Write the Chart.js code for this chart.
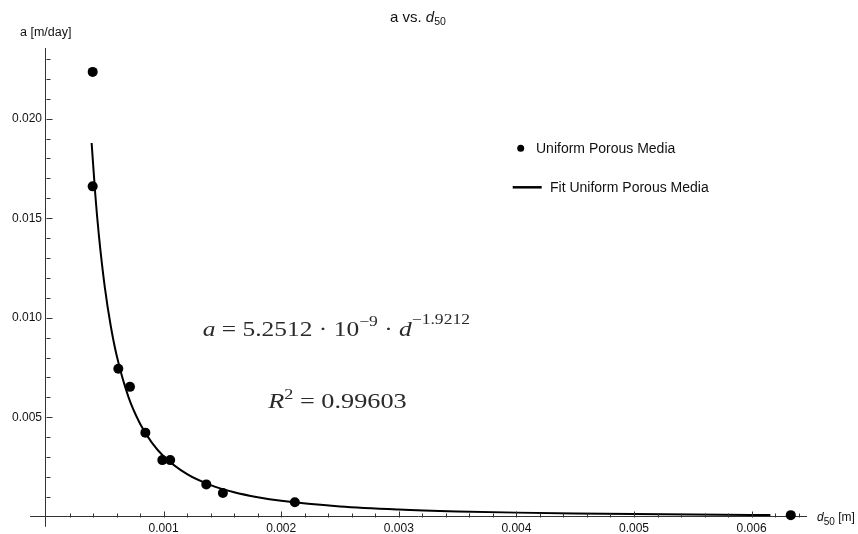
<!DOCTYPE html>
<html><head><meta charset="utf-8">
<script src="https://cdn.jsdelivr.net/npm/chart.js@4.4.1/dist/chart.umd.min.js"></script>
<style>html,body{margin:0;padding:0;background:#fff}</style>
</head><body>
<canvas id="c" width="858" height="534" style="width:858px;height:534px;display:block"></canvas>
<script>
// measured points (d50 [m], a [m/day])
const d50 = [0.000397, 0.000397, 0.000615, 0.000714, 0.000845, 0.000989, 0.001056, 0.001363, 0.001504, 0.002116, 0.006333];
const aValues = [0.02235, 0.0166, 0.00744, 0.00653, 0.00423, 0.00285, 0.00285, 0.00163, 0.0012, 0.00073, 0.000085];
// fitted curve
const fitD = [0.000388, 0.00042, 0.00045, 0.0005, 0.00055, 0.0006, 0.0007, 0.0008, 0.0009, 0.001, 0.0012, 0.0014, 0.0016, 0.0018, 0.002, 0.0025, 0.003, 0.0035, 0.004, 0.0045, 0.005, 0.0055, 0.006, 0.00616];
const fitA = [0.01878, 0.01613, 0.01413, 0.01154, 0.00961, 0.00813, 0.00604, 0.00468, 0.00373, 0.003046, 0.002145, 0.001596, 0.001234, 0.000985, 0.000804, 0.000524, 0.000369, 0.000274, 0.000212, 0.000169, 0.000138, 0.000115, 0.0000973, 0.0000925];
const xTickLabels = ['0.001', '0.002', '0.003', '0.004', '0.005', '0.006'];
const yTickLabels = ['0.005', '0.010', '0.015', '0.020'];
const seriesNames = ['Uniform Porous Media', 'Fit Uniform Porous Media'];

function labelFor(v, labels) {
  const hit = labels.find(l => Math.abs(parseFloat(l) - v) < 1e-9);
  return hit || '';
}
const AX = '#333';
const SANS = "'Liberation Sans', Arial, sans-serif";
const SERIF = "'Liberation Serif', 'Times New Roman', serif";

const decor = {
  id: 'decor',
  afterDatasetsDraw(chart) {
    const ctx = chart.ctx;
    const xs = chart.scales.x, ys = chart.scales.y;
    const x0 = Math.round(xs.getPixelForValue(0)) + 0.5;
    const y0 = Math.round(ys.getPixelForValue(0)) + 0.5;
    ctx.save();
    ctx.strokeStyle = AX;
    ctx.lineWidth = 1;
    ctx.beginPath();
    for (let k = 1; k <= 32; k++) {
      const px = Math.round(xs.getPixelForValue(k * 0.0002)) + 0.5;
      const len = (k % 5 === 0) ? 6 : 4;
      ctx.moveTo(px, y0); ctx.lineTo(px, y0 - len);
    }
    for (let k = 1; k <= 23; k++) {
      const py = Math.round(ys.getPixelForValue(k * 0.001)) + 0.5;
      const len = (k % 5 === 0) ? 6 : 4;
      ctx.moveTo(x0, py); ctx.lineTo(x0 + len, py);
    }
    ctx.stroke();

    ctx.fillStyle = '#111';
    ctx.textBaseline = 'alphabetic';
    ctx.textAlign = 'left';
    // title
    let x = 390;
    ctx.font = '15px ' + SANS; ctx.fillText('a vs. ', x, 21.5); x += ctx.measureText('a vs. ').width;
    ctx.font = 'italic 15px ' + SANS; ctx.fillText('d', x, 21.5); x += ctx.measureText('d').width;
    ctx.font = '10.5px ' + SANS; ctx.fillText('50', x, 25);
    // y axis label
    ctx.font = '12.5px ' + SANS; ctx.fillText('a [m/day]', 20, 36);
    // x axis label
    x = 817;
    ctx.font = 'italic 12px ' + SANS; ctx.fillText('d', x, 521); x += ctx.measureText('d').width;
    ctx.font = '10px ' + SANS; ctx.fillText('50', x, 524.5); x += ctx.measureText('50').width;
    ctx.font = '12px ' + SANS; ctx.fillText(' [m]', x, 521);

    // legend
    const ds0 = chart.data.datasets[0], ds1 = chart.data.datasets[1];
    ctx.fillStyle = ds0.backgroundColor;
    ctx.beginPath(); ctx.arc(520.7, 148.3, 3.5, 0, Math.PI * 2); ctx.fill();
    ctx.fillStyle = '#111';
    ctx.font = '14px ' + SANS; ctx.fillText(ds0.label, 536, 153.3);
    ctx.strokeStyle = ds1.borderColor; ctx.lineWidth = 2.5;
    ctx.beginPath(); ctx.moveTo(512.7, 187.3); ctx.lineTo(541.7, 187.3); ctx.stroke();
    ctx.fillText(ds1.label, 550, 192.3);

    // equations (TeX-like)
    function drawParts(parts, left, right, base) {
      let w = 0;
      parts.forEach(p => { ctx.font = p.f; p.w = ctx.measureText(p.t).width; w += p.w; });
      const s = (right - left) / w;
      ctx.save();
      ctx.translate(left, base); ctx.scale(s, 1);
      let cx = 0;
      parts.forEach(p => { ctx.font = p.f; ctx.fillText(p.t, cx, -(p.r || 0)); cx += p.w; });
      ctx.restore();
    }
    ctx.fillStyle = '#2a2a2a';
    const M = '21px ' + SERIF, I = 'italic 21px ' + SERIF, S = '14.5px ' + SERIF;
    drawParts([
      {t: 'a', f: I}, {t: ' = 5.2512 \u00b7 10', f: M}, {t: '\u22129', f: S, r: 9.5},
      {t: ' \u00b7 ', f: M}, {t: 'd', f: I}, {t: '\u22121.9212', f: S, r: 12}
    ], 202.7, 470, 335.5);
    drawParts([
      {t: 'R', f: I}, {t: '2', f: S, r: 9.5}, {t: ' = 0.99603', f: M}
    ], 268.3, 406.7, 408.3);
    ctx.restore();
  }
};

new Chart(document.getElementById('c'), {
  type: 'scatter',
  data: {
    datasets: [
      {
        label: seriesNames[0],
        data: d50.map((d, i) => ({x: d, y: aValues[i]})),
        backgroundColor: '#000', borderColor: '#000', borderWidth: 0,
        pointRadius: 5, pointHoverRadius: 5
      },
      {
        label: seriesNames[1],
        data: fitD.map((d, i) => ({x: d, y: fitA[i]})),
        showLine: true, borderColor: '#000', backgroundColor: '#000', borderWidth: 2,
        pointRadius: 0, cubicInterpolationMode: 'monotone', fill: false
      }
    ]
  },
  options: {
    responsive: false, animation: false, devicePixelRatio: 1,
    layout: {padding: {left: 30, top: 48, right: 51, bottom: 5}},
    plugins: {legend: {display: false}, tooltip: {enabled: false}, title: {display: false}},
    scales: {
      x: {
        type: 'linear', min: -0.000136, max: 0.006471, position: {y: 0},
        border: {display: false},
        grid: {display: true, drawOnChartArea: true, drawTicks: false, lineWidth: 1,
               color: c => (c.tick && Math.abs(c.tick.value) < 1e-12) ? AX : 'rgba(0,0,0,0)'},
        ticks: {stepSize: 0.001, includeBounds: false, autoSkip: false, maxRotation: 0, padding: 5,
                color: '#111', font: {family: SANS, size: 12},
                callback: v => labelFor(v, xTickLabels)}
      },
      y: {
        type: 'linear', min: -0.0005, max: 0.02355, position: {x: -0.000034},
        border: {display: false},
        grid: {display: true, drawOnChartArea: true, drawTicks: false, lineWidth: 1,
               color: c => (c.tick && Math.abs(c.tick.value) < 1e-12) ? AX : 'rgba(0,0,0,0)'},
        ticks: {stepSize: 0.005, includeBounds: false, autoSkip: false, padding: 0,
                color: '#111', font: {family: SANS, size: 12},
                callback: v => labelFor(v, yTickLabels)}
      }
    }
  },
  plugins: [decor]
});
</script>
</body></html>
